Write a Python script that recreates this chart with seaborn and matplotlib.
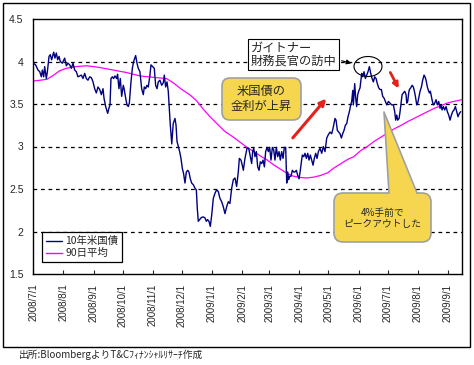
import numpy as np
import pandas as pd
import matplotlib
matplotlib.use("Agg")
import matplotlib.pyplot as plt
import matplotlib.transforms as mtransforms
from matplotlib.patches import Rectangle, Ellipse, FancyBboxPatch, FancyArrowPatch, Polygon
from matplotlib.lines import Line2D
import seaborn as sns

# ---------------- data ----------------
start_date = "2008-07-01"

# 10-year US Treasury yield: days since 2008/7/1 and value (%)
yield_day = [
    0, 2.4, 4.8, 6.6, 8.3, 9.3, 10.7, 11.7, 13.4, 14.5, 16.2, 17.5, 18.9, 21, 22.3, 23.7, 25.1, 26.5,
    27.8, 29.9, 32.3, 34, 35.7, 37.5, 39.2, 40.9, 42.6, 44.3, 46, 47.8, 49.5, 51.2, 52.9, 54.6, 56.3,
    58.1, 59.8, 61.5, 63.2, 64.9, 66.6, 68.4, 70.1, 71.8, 72.8, 74.5,
    76.6, 77.9, 79.0, 80.0, 81.4, 82.7, 84.1, 85.8, 86.8, 88.2, 89.6, 91.0, 92.7, 93.7, 95.1, 96.5,
    97.8, 98.9, 100.6, 102.0, 103.3, 105.4, 106.8, 108.1, 109.8, 111.6, 113.3, 114.3, 115.7, 117.0,
    118.4, 120.1, 121.2, 122.9, 124.6, 126.0, 127.4, 128.7, 130.4, 132.2, 133.9, 134.9, 136.3, 137.7,
    139.0, 140.1, 141.1, 142.6, 144.1, 145.9,
    147.0, 148.0, 149.3, 150.7, 152.1, 153.5, 154.8, 156.2, 157.6, 159.0, 160.3, 161.7, 163.1, 164.8,
    166.5, 167.9, 168.9, 169.9, 171.3, 172.7, 174.1, 175.4, 176.8, 178.2, 179.5, 180.9, 182.3, 183.7,
    185.4, 187.1, 188.8, 190.5, 192.2, 194.0, 195.7, 197.4, 199.1, 200.8, 202.5, 204.3, 206.0, 207.7,
    209.4, 211.1, 212.2, 213.9, 215.2, 216.3, 218.0,
    220.1, 221.8, 223.5, 224.9, 225.9, 227.0, 228.3, 229.7, 231.1, 232.5, 233.8, 235.2, 236.6, 238.0,
    239.3, 240.7, 242.1, 243.4, 244.8, 246.2, 247.6, 248.9, 250.3, 251.7, 253.1, 254.4, 255.8, 257.2,
    258.5, 259.9, 261.0, 262.0, 263.0, 264.0, 265.4, 266.8, 268.2, 269.5, 270.9, 272.3, 273.7, 275.0,
    276.1, 277.1, 278.5, 279.8, 281.2, 282.6, 284.0, 285.3, 286.7, 288.1, 289.4, 290.8, 292.2, 293.6,
    295.3, 297.0, 298.7, 300.4, 302.2, 303.9, 305.6, 307.3, 309.0, 310.7, 311.8, 313.1, 314.5, 315.9,
    317.3, 318.6, 320.0, 321.4, 322.8, 324.1, 325.5, 326.9, 327.9, 329.0, 329.6, 331.0, 332.0, 333.0,
    334.1, 335.1, 336.5, 338.2, 339.2, 340.6, 342.0, 343.4, 344.7, 346.1, 347.5, 348.9, 350.2, 351.6,
    353.0, 354.3, 355.7, 357.1, 358.5, 359.8, 361.2, 362.6, 364.0, 365.7,
    367.4, 369.1, 370.8, 372.2, 373.2, 374.3, 375.3, 376.7, 377.7, 378.7, 379.8, 381.1, 382.5, 383.9,
    384.6, 385.6, 386.6, 387.3, 388.7, 390.1, 391.4, 392.5, 393.5, 394.9, 395.9, 396.9, 398.3, 399.7,
    401.0, 402.4, 403.4, 404.5, 405.8, 406.9, 407.9, 408.9, 410.0, 411.0, 412.0, 413.4, 414.8, 416.1,
    417.5, 418.9, 419.9, 421.0, 422.3, 423.7, 425.1, 426.4, 427.8, 429.2, 430.6, 431.9, 433.3, 434.7,
    436.0, 437.4, 438.8, 440.2,
]
yield_10y = [
    3.98, 3.96, 3.90, 3.88, 3.82, 3.90, 3.82, 3.94, 3.80, 3.88, 4.06, 4.08, 4.02, 4.11, 4.04, 4.10, 4.02, 4.06,
    4.00, 3.98, 4.04, 3.95, 3.98, 3.96, 3.92, 3.98, 3.90, 3.88, 3.82, 3.83, 3.84, 3.80, 3.86, 3.80, 3.78,
    3.82, 3.81, 3.76, 3.68, 3.63, 3.70, 3.67, 3.61, 3.68, 3.57, 3.47,
    3.39, 3.45, 3.49, 3.80, 3.82, 3.80, 3.83, 3.80, 3.85, 3.68, 3.80, 3.59, 3.72, 3.67, 3.57, 3.49,
    3.47, 3.51, 3.76, 3.92, 4.00, 4.07, 3.98, 3.92, 3.88, 3.68, 3.61, 3.70, 3.68, 3.72,
    3.70, 3.84, 3.96, 3.94, 3.92, 3.72, 3.68, 3.76, 3.78, 3.72, 3.75, 3.84, 3.70, 3.76,
    3.65, 3.45, 3.25, 3.03, 3.27, 3.33,
    3.25, 3.06, 3.00, 2.94, 2.86, 2.74, 2.68, 2.57, 2.70, 2.72, 2.70, 2.62, 2.57, 2.55,
    2.51, 2.49, 2.27, 2.12, 2.14, 2.16, 2.17, 2.17, 2.16, 2.12, 2.14, 2.12, 2.06, 2.19,
    2.39, 2.45, 2.49, 2.47, 2.39, 2.35, 2.29, 2.21, 2.29, 2.35, 2.33, 2.51, 2.61, 2.63,
    2.53, 2.70, 2.86, 2.84, 2.78, 2.72, 2.86,
    2.98, 2.98, 2.88, 2.80, 2.94, 2.98, 2.88, 2.94, 2.76, 2.72, 2.82, 2.80, 2.84, 2.76,
    2.94, 2.99, 2.94, 2.99, 2.84, 2.99, 2.96, 2.84, 2.99, 2.88, 2.94, 2.84, 2.94, 2.86,
    2.99, 2.99, 2.57, 2.70, 2.61, 2.65, 2.65, 2.72, 2.70, 2.70, 2.72, 2.66, 2.62, 2.72,
    2.82, 2.90, 2.88, 2.92, 2.86, 2.92, 2.84, 2.90, 2.84, 2.78, 2.86, 2.92, 2.86, 2.94,
    2.98, 2.92, 3.00, 2.94, 3.10, 3.14, 3.17, 3.15, 3.23, 3.33, 3.31, 3.19, 3.17, 3.15,
    3.10, 3.15, 3.19, 3.25, 3.27, 3.35, 3.41, 3.49, 3.53, 3.66, 3.49, 3.74, 3.57, 3.47,
    3.61, 3.65, 3.69, 3.86, 3.82, 3.88, 3.80, 3.84, 3.88, 3.94, 3.86, 3.80, 3.76, 3.82,
    3.80, 3.74, 3.69, 3.67, 3.67, 3.59, 3.57, 3.53, 3.49, 3.53,
    3.51, 3.49, 3.49, 3.41, 3.31, 3.37, 3.31, 3.33, 3.41, 3.51, 3.61, 3.63, 3.65, 3.61,
    3.51, 3.53, 3.63, 3.67, 3.69, 3.72, 3.70, 3.65, 3.59, 3.49, 3.51, 3.57, 3.65, 3.70,
    3.78, 3.84, 3.82, 3.78, 3.70, 3.66, 3.63, 3.65, 3.59, 3.53, 3.49, 3.51, 3.55, 3.49,
    3.53, 3.45, 3.49, 3.43, 3.47, 3.43, 3.47, 3.41, 3.37, 3.31, 3.37, 3.41, 3.43, 3.47,
    3.41, 3.35, 3.39, 3.41,
]

# 90-day moving average
ma_day = [0, 14, 21, 27, 34, 44, 55, 68, 82, 96, 110, 127, 137, 144, 153, 161, 168, 175, 182, 189,
          197, 206, 213, 220, 227, 235, 241, 248, 255, 262, 268, 275, 282, 289, 296, 303, 310, 317,
          324, 330, 337, 344, 351, 358, 365, 372, 379, 385, 392, 399, 406, 413, 420, 426, 433, 441]
ma_90 = [3.77, 3.79, 3.84, 3.89, 3.92, 3.94, 3.95, 3.93, 3.90, 3.87, 3.83, 3.81, 3.80, 3.75, 3.67,
         3.61, 3.54, 3.44, 3.35, 3.27, 3.18, 3.11, 3.05, 2.99, 2.94, 2.88, 2.84, 2.78, 2.73, 2.68,
         2.65, 2.635, 2.63, 2.64, 2.66, 2.69, 2.75, 2.80, 2.85, 2.88, 2.95, 3.00, 3.06, 3.11, 3.16,
         3.21, 3.25, 3.29, 3.33, 3.37, 3.41, 3.45, 3.48, 3.51, 3.53, 3.55]

series_names = ["10年米国債", "90日平均"]
tick_dates = ["2008-07-01", "2008-08-01", "2008-09-01", "2008-10-01", "2008-11-01", "2008-12-01",
              "2009-01-01", "2009-02-01", "2009-03-01", "2009-04-01", "2009-05-01", "2009-06-01",
              "2009-07-01", "2009-08-01", "2009-09-01"]
tick_labels = ["2008/7/1", "2008/8/1", "2008/9/1", "2008/10/1", "2008/11/1", "2008/12/1",
               "2009/1/1", "2009/2/1", "2009/3/1", "2009/4/1", "2009/5/1", "2009/6/1",
               "2009/7/1", "2009/8/1", "2009/9/1"]
y_ticks = [1.5, 2, 2.5, 3, 3.5, 4, 4.5]
source_text = "出所:BloombergよりT&Cﾌｨﾅﾝｼｬﾙﾘｻｰﾁ作成"

# ---------------- figure ----------------
sns.set_style("white")
plt.rcParams["font.family"] = ["Liberation Sans", "Noto Sans CJK JP", "DejaVu Sans"]
JP = ["Noto Sans CJK JP", "DejaVu Sans"]

W, H = 474, 365
fig = plt.figure(figsize=(W / 100, H / 100), dpi=100)
fig.patch.set_facecolor("white")
px = mtransforms.Affine2D().scale(1 / W, -1 / H).translate(0, 1) + fig.transFigure

ax = fig.add_axes([33.3 / W, 1 - 274 / H, (462 - 33.3) / W, (274 - 19) / H])

t0 = pd.Timestamp(start_date)
df_y = pd.DataFrame({"date": t0 + pd.to_timedelta(yield_day, unit="D"), "value": yield_10y})
df_m = pd.DataFrame({"date": t0 + pd.to_timedelta(ma_day, unit="D"), "value": ma_90})

sns.lineplot(data=df_y, x="date", y="value", ax=ax, color="#000080", lw=1.0, estimator=None,
             sort=False, zorder=3)
sns.lineplot(data=df_m, x="date", y="value", ax=ax, color="#FF00FF", lw=0.9, estimator=None,
             sort=False, zorder=2)

ax.set_xlim(t0, t0 + pd.Timedelta(days=441.5))
ax.set_ylim(1.5, 4.5)
ax.set_xlabel("")
ax.set_ylabel("")
ax.set_yticks(y_ticks)
ax.set_yticklabels([f"{v:g}" for v in y_ticks], fontsize=7.5)
ax.set_xticks(pd.to_datetime(tick_dates))
ax.set_xticklabels(tick_labels, rotation=90, fontsize=7, va="top", ha="center")
ax.tick_params(axis="y", length=0, pad=7)
ax.tick_params(axis="x", direction="in", length=3, width=0.8, pad=7, bottom=True, top=False)
for s in ax.spines.values():
    s.set_color("black")
    s.set_linewidth(1.0)
for v in [2, 2.5, 3, 3.5, 4]:
    ax.axhline(v, color="black", lw=0.9, ls=(0, (3, 3)), zorder=1)

handles = [Line2D([], [], color="#000080", lw=1.0), Line2D([], [], color="#FF00FF", lw=1.0)]
leg = ax.legend(handles, series_names, loc="lower left", bbox_to_anchor=(0.02, 0.047),
                borderaxespad=0, frameon=True, fancybox=False, edgecolor="black", framealpha=1,
                handlelength=1.6, handletextpad=0.3, borderpad=0.35, labelspacing=0.2,
                prop={"family": JP, "size": 7.5})
leg.get_frame().set_linewidth(0.9)

# ---------------- annotations ----------------
yellow = "#F5D64E"
edge_gray = "#A0A0A0"

# Geithner box
fig.patches.append(Rectangle((248, 39), 91, 31, transform=px, fc="white", ec="black", lw=0.8))
fig.text(250.5, 55, "ガイトナー\n財務長官の訪中", transform=px, ha="left", va="center",
         fontsize=8.8, family=JP, linespacing=1.15)
fig.patches.append(Ellipse((368, 66.5), 28, 20, transform=px, fc="none", ec="black", lw=0.8, zorder=5))
fig.patches.append(FancyArrowPatch((339, 60), (354, 64), transform=px, arrowstyle="-|>",
                                   mutation_scale=7, lw=0.8, color="black"))

# yellow box 1
fig.patches.append(FancyBboxPatch((222, 78), 79, 42, boxstyle="round,pad=0,rounding_size=8",
                                  transform=px, fc=yellow, ec=edge_gray, lw=1.2))
fig.text(261.5, 99, "米国債の\n金利が上昇", transform=px, ha="center", va="center",
         fontsize=8.8, family=JP, linespacing=1.15)

# red arrows
fig.patches.append(FancyArrowPatch((291, 140), (328, 96.5), transform=px, arrowstyle="-|>",
                                   mutation_scale=9, lw=2.2, color="#E4211C"))
fig.patches.append(FancyArrowPatch((389, 70), (400, 91), transform=px, arrowstyle="-|>",
                                   mutation_scale=8, lw=2.0, color="#E4211C"))

# callout 2
fig.patches.append(FancyBboxPatch((334, 193), 97, 49, boxstyle="round,pad=0,rounding_size=9",
                                  transform=px, fc=yellow, ec=edge_gray, lw=1.2))
fig.patches.append(Polygon([(389, 195), (384, 112), (417, 195)], closed=True, transform=px,
                           fc=yellow, ec="none"))
fig.lines.append(Line2D([389, 384, 417], [193, 112, 193], transform=px, color=edge_gray, lw=1.2))
fig.text(382.5, 218.5, "4%手前で\nピークアウトした", transform=px, ha="center", va="center",
         fontsize=7, family=JP, linespacing=1.15)

# outer frame and source
fig.patches.append(Rectangle((3, 3), 467, 344, transform=px, fc="none", ec="black", lw=1.0))
fig.text(19, 355, source_text, transform=px, ha="left", va="center", fontsize=7, family=JP)

fig.savefig("out.png", dpi=100, facecolor="white")
